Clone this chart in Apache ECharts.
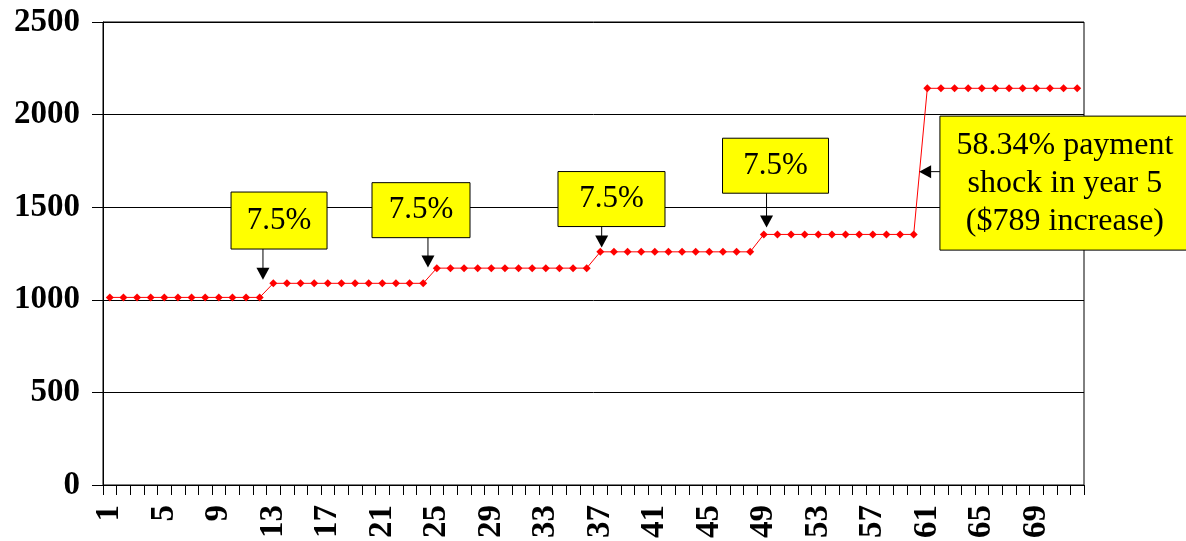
<!DOCTYPE html>
<html>
<head>
<meta charset="utf-8">
<script src="https://cdn.jsdelivr.net/npm/echarts@6/dist/echarts.min.js"></script>
<style>
html,body{margin:0;padding:0;background:#fff;}
#c{width:1186px;height:541px;}
</style>
</head>
<body>
<div id="c"></div>
<script>
// Payment months 1..72
var months = [];
for (var m = 1; m <= 72; m++) months.push(String(m));

// Monthly payment values
var payments = [
  1013,1013,1013,1013,1013,1013,1013,1013,1013,1013,1013,1013,
  1089,1089,1089,1089,1089,1089,1089,1089,1089,1089,1089,1089,
  1171,1171,1171,1171,1171,1171,1171,1171,1171,1171,1171,1171,
  1259,1259,1259,1259,1259,1259,1259,1259,1259,1259,1259,1259,
  1353,1353,1353,1353,1353,1353,1353,1353,1353,1353,1353,1353,
  2142,2142,2142,2142,2142,2142,2142,2142,2142,2142,2142,2142
];

var yTicks = [0, 500, 1000, 1500, 2000, 2500];

// Annotations: text, box centre [month position, value], arrow tip [month position, value]
var annoText = ['7.5%', '7.5%', '7.5%', '7.5%', '58.34% payment\nshock in year 5\n($789 increase)'];
var annoBox = [[13.42, 1428], [23.84, 1484], [37.82, 1544], [49.86, 1724], [71.1, 1630]];
var annoTip = [[12.24, 1108], [24.35, 1175], [37.1, 1282], [49.2, 1390], [60.4, 1692]];

(function () {
  var serif = "'Liberation Serif','Times New Roman',serif";
  var chart = echarts.init(document.getElementById('c'));

  chart.setOption({
    animation: false,
    backgroundColor: '#fff',
    grid: { left: 103, right: 102, top: 22, bottom: 55, show: true, borderColor: '#000', borderWidth: 1, backgroundColor: 'transparent' },
    xAxis: {
      type: 'category',
      data: months,
      boundaryGap: true,
      axisLine: { lineStyle: { color: '#000', width: 1 } },
      axisTick: { show: true, interval: 0, length: 10, lineStyle: { color: '#000' } },
      axisLabel: { interval: 3, rotate: 90, margin: 20, color: '#000', fontFamily: serif, fontWeight: 'bold', fontSize: 33 },
      splitLine: { show: false }
    },
    yAxis: {
      type: 'value',
      min: yTicks[0],
      max: yTicks[yTicks.length - 1],
      interval: 500,
      axisLine: { show: true, lineStyle: { color: '#000', width: 1 } },
      axisTick: { show: true, length: 11, lineStyle: { color: '#000' } },
      axisLabel: { margin: 23, color: '#000', fontFamily: serif, fontWeight: 'bold', fontSize: 33, formatter: function (v) { return String(v); } },
      splitLine: { show: true, lineStyle: { color: '#000', width: 1 } }
    },
    series: [{
      type: 'line',
      data: payments,
      symbol: 'diamond',
      symbolSize: 8,
      showSymbol: true,
      lineStyle: { color: '#ff0000', width: 1 },
      itemStyle: { color: '#ff0000' }
    }]
  });

  var p0 = chart.convertToPixel('grid', [months[0], 0]);
  var p1 = chart.convertToPixel('grid', [months[1], 0]);
  var x0 = p0[0], step = p1[0] - p0[0];
  function px(pos) { return x0 + (pos - 1) * step; }
  function py(v) { return chart.convertToPixel('grid', [months[0], v])[1]; }

  var boxSize = [[96, 57], [98, 55], [107, 55], [106, 55], [250, 134]];
  var graphics = [];
  for (var i = 0; i < annoText.length; i++) {
    var cx = px(annoBox[i][0]), cy = py(annoBox[i][1]);
    var w = boxSize[i][0], h = boxSize[i][1];
    var tx = px(annoTip[i][0]), ty = py(annoTip[i][1]);
    var bx = cx - w / 2, by = cy - h / 2;
    graphics.push({ type: 'rect', z: 100, shape: { x: bx, y: by, width: w, height: h }, style: { fill: '#ffff00', stroke: '#000', lineWidth: 1 } });
    var multi = annoText[i].indexOf('\n') >= 0;
    graphics.push({ type: 'text', z: 101, style: { text: annoText[i], x: cx, y: cy, align: 'center', verticalAlign: 'middle', fill: '#000', fontFamily: serif, fontSize: multi ? 32 : 31, lineHeight: 38 } });
    if (i < 4) {
      graphics.push({ type: 'line', z: 100, shape: { x1: tx, y1: by + h, x2: tx, y2: ty - 10 }, style: { stroke: '#000', lineWidth: 1 } });
      graphics.push({ type: 'polygon', z: 100, shape: { points: [[tx - 6.5, ty - 12], [tx + 6.5, ty - 12], [tx, ty]] }, style: { fill: '#000' } });
    } else {
      graphics.push({ type: 'line', z: 100, shape: { x1: bx, y1: ty, x2: tx + 10, y2: ty }, style: { stroke: '#000', lineWidth: 1 } });
      graphics.push({ type: 'polygon', z: 100, shape: { points: [[tx + 12, ty - 6.5], [tx + 12, ty + 6.5], [tx, ty]] }, style: { fill: '#000' } });
    }
  }
  chart.setOption({ graphic: { elements: graphics } });
})();
</script>
</body>
</html>
